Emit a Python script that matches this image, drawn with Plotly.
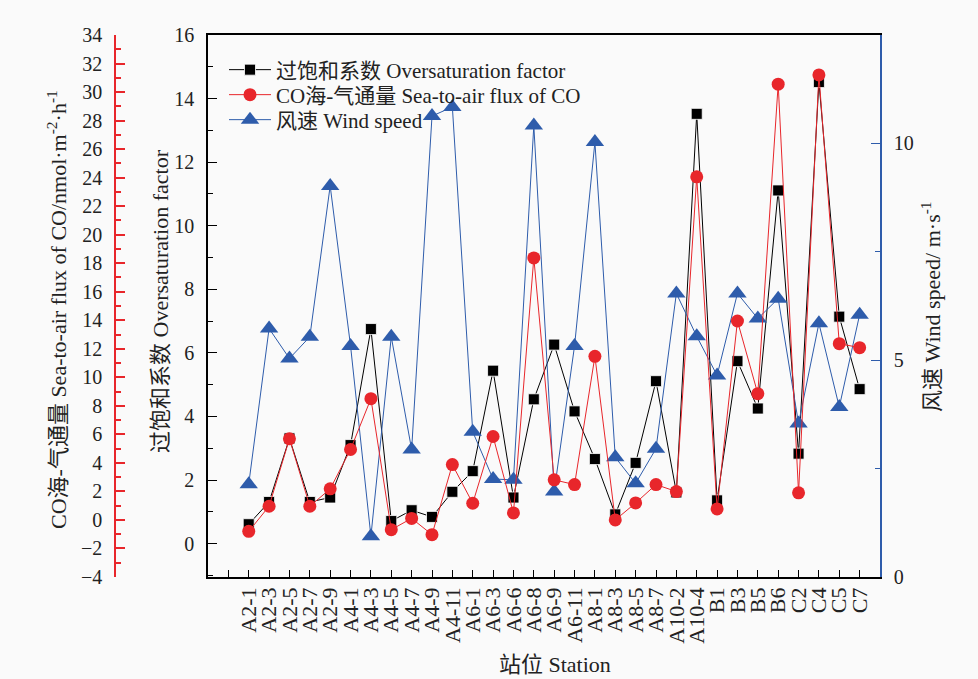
import plotly.graph_objects as go

# Station labels along the cruise track
stations = ["A2-1", "A2-3", "A2-5", "A2-7", "A2-9", "A4-1", "A4-3", "A4-5", "A4-7", "A4-9",
            "A4-11", "A6-1", "A6-3", "A6-6", "A6-8", "A6-9", "A6-11", "A8-1", "A8-3", "A8-5",
            "A8-7", "A10-2", "A10-4", "B1", "B3", "B5", "B6", "C2", "C4", "C5", "C7"]

# CO oversaturation factor (left black axis)
oversaturation = [0.61, 1.31, 3.31, 1.31, 1.45, 3.10, 6.75, 0.71, 1.05, 0.84,
                  1.63, 2.28, 5.44, 1.45, 4.54, 6.26, 4.16, 2.66, 0.92, 2.54,
                  5.11, 1.61, 13.52, 1.36, 5.74, 4.25, 11.11, 2.83, 14.52, 7.14, 4.86]

# Sea-to-air flux of CO, nmol m-2 h-1 (red axis)
co_flux = [-0.80, 0.96, 5.69, 0.96, 2.18, 4.94, 8.50, -0.68, 0.11, -1.03,
           3.88, 1.17, 5.85, 0.49, 18.37, 2.81, 2.48, 11.47, 0.00, 1.19,
           2.48, 1.99, 24.06, 0.77, 13.95, 8.85, 30.55, 1.90, 31.20, 12.36, 12.08]

# Wind speed, m/s (right blue axis)
wind_speed = [2.14, 5.73, 5.04, 5.54, 9.02, 5.33, 0.94, 5.54, 2.94, 10.63,
              10.84, 3.35, 2.26, 2.24, 10.41, 1.97, 5.33, 10.03, 2.76, 2.16,
              2.96, 6.54, 5.55, 4.65, 6.54, 5.96, 6.42, 3.54, 5.85, 3.92, 6.05]

RED = "#E8262B"
BLUE = "#2E5CAB"
TXT = "#222222"
FONT = "Liberation Serif, Noto Sans CJK SC, serif"
W, H = 978, 679

x = list(range(len(stations)))

fig = go.Figure()
fig.add_trace(go.Scatter(
    x=x, y=oversaturation, mode="lines+markers", name="过饱和系数 Oversaturation factor",
    line=dict(color="black", width=1),
    marker=dict(symbol="square", size=11, color="black", line=dict(color="white", width=0.8)),
    yaxis="y", legend="legend"))
fig.add_trace(go.Scatter(
    x=x, y=co_flux, mode="lines+markers", name="CO海-气通量 Sea-to-air flux of CO",
    line=dict(color=RED, width=1),
    marker=dict(symbol="circle", size=13, color=RED),
    yaxis="y3", legend="legend2"))
fig.add_trace(go.Scatter(
    x=x, y=wind_speed, mode="lines+markers", name="风速 Wind speed",
    line=dict(color=BLUE, width=1),
    marker=dict(symbol="triangle-up", size=16, color=BLUE),
    yaxis="y2", legend="legend3"))

xdom = [208 / W, 880 / W]
ydom = [1 - 577 / H, 1 - 35 / H]


def legend_at(ypx):
    return dict(x=224 / W, y=1 - ypx / H, xanchor="left", yanchor="middle",
                bgcolor="rgba(0,0,0,0)", font=dict(size=21, family=FONT, color=TXT),
                itemwidth=42)


def paper_note(text, xpx, ypx, angle=0):
    return dict(text=text, textangle=angle, x=xpx / W, y=1 - ypx / H,
                xref="paper", yref="paper", xanchor="center", yanchor="middle",
                showarrow=False, font=dict(size=22))


fig.update_layout(
    width=W, height=H,
    margin=dict(l=0, r=0, t=0, b=0, autoexpand=False),
    paper_bgcolor="#fafafa", plot_bgcolor="#fafafa",
    font=dict(family=FONT, size=20, color=TXT),
    showlegend=True,
    legend=legend_at(70),
    legend2=legend_at(95),
    legend3=legend_at(120),
    xaxis=dict(domain=xdom, range=[-2, 31], tickmode="array",
               tickvals=list(range(-1, 31)), ticktext=[""] + stations,
               tickangle=-90, ticks="inside", ticklen=7, tickcolor="black",
               showline=True, linecolor="black", linewidth=1.5, mirror=True,
               showgrid=False, zeroline=False, tickfont=dict(size=22),
               automargin=False),
    yaxis=dict(domain=ydom, range=[-1.05, 16], tick0=0, dtick=2,
               ticks="inside", ticklen=9, tickcolor="black",
               minor=dict(dtick=1, ticks="inside", ticklen=5, tickcolor="black"),
               showline=True, linecolor="black", linewidth=1.5,
               showgrid=False, zeroline=False, ticklabelstandoff=8, automargin=False),
    yaxis2=dict(overlaying="y", side="right", anchor="x", range=[0, 12.5],
                tick0=0, dtick=5, ticks="inside", ticklen=9, tickcolor=BLUE,
                minor=dict(dtick=2.5, ticks="inside", ticklen=5, tickcolor=BLUE),
                showline=True, linecolor=BLUE, linewidth=1.5,
                showgrid=False, zeroline=False, ticklabelstandoff=8, automargin=False),
    yaxis3=dict(overlaying="y", side="left", anchor="free", position=115 / W,
                range=[-4, 34], tick0=0, dtick=2, ticks="inside", ticklen=9,
                tickcolor=RED, tickwidth=1.5,
                minor=dict(dtick=1, ticks="inside", ticklen=5, tickcolor=RED),
                showline=True, linecolor=RED, linewidth=1.5,
                showgrid=False, zeroline=False, ticklabelstandoff=8, automargin=False),
    annotations=[
        paper_note("过饱和系数 Oversaturation factor", 160, 301, -90),
        paper_note("CO海-气通量 Sea-to-air flux of CO/nmol·m<sup>-2</sup>·h<sup>-1</sup>",
                   57, 310, -90),
        paper_note("风速 Wind speed/ m·s<sup>-1</sup>", 931, 307, -90),
        paper_note("站位 Station", 555, 664),
    ],
)

fig.write_html("out.html")
